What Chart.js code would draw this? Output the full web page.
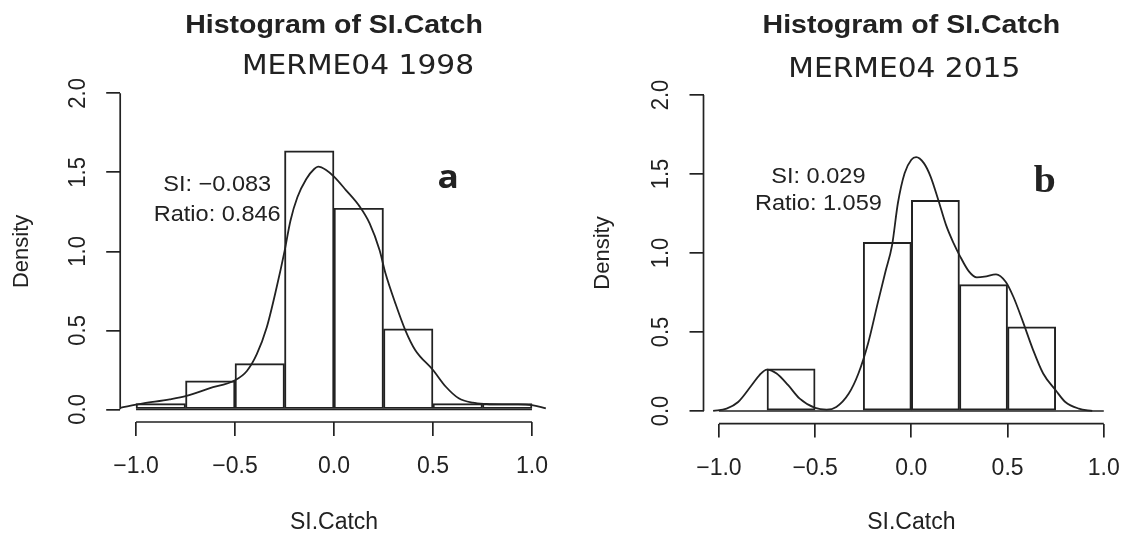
<!DOCTYPE html>
<html>
<head>
<meta charset="utf-8">
<script src="https://cdn.jsdelivr.net/npm/chart.js@4"></script>
<style>
  html, body { margin: 0; padding: 0; background: #fff; }
  .panel { position: absolute; top: 0; height: 540px; }
  #panelA { left: 0; width: 568px; }
  #panelB { left: 568px; width: 569px; }
</style>
</head>
<body>
<div class="panel" id="panelA"><canvas id="chartA"></canvas></div>
<div class="panel" id="panelB"><canvas id="chartB"></canvas></div>
<script>
// histogram bins (SI.Catch) and densities
const binEdges = [-1, -0.75, -0.5, -0.25, 0, 0.25, 0.5, 0.75, 1];
const densityA = [0.036, 0.18, 0.29, 1.636, 1.273, 0.51, 0.036, 0.036];
const densityB = [0, 0.267, 0, 1.067, 1.333, 0.8, 0.533, 0];

// kernel density curves
const kdeAx = [-1.08, -0.97, -0.83, -0.745, -0.63, -0.5, -0.44, -0.39, -0.34, -0.29, -0.25, -0.22, -0.185, -0.14, -0.1, -0.08, -0.04, 0, 0.06, 0.13, 0.18, 0.23, 0.26, 0.31, 0.36, 0.41, 0.5, 0.565, 0.63, 0.7, 0.77, 0.85, 0.93, 1.0, 1.07];
const kdeAy = [0.01, 0.036, 0.063, 0.085, 0.133, 0.184, 0.243, 0.349, 0.518, 0.771, 1.0, 1.194, 1.342, 1.458, 1.521, 1.536, 1.515, 1.473, 1.388, 1.283, 1.177, 1.008, 0.861, 0.671, 0.502, 0.376, 0.249, 0.143, 0.07, 0.042, 0.034, 0.032, 0.032, 0.027, 0.006];
const kdeBx = [-1.03, -0.96, -0.9, -0.83, -0.79, -0.75, -0.7, -0.64, -0.58, -0.5, -0.44, -0.39, -0.325, -0.275, -0.225, -0.175, -0.135, -0.1, -0.07, -0.035, 0, 0.025, 0.065, 0.1, 0.14, 0.18, 0.22, 0.25, 0.3, 0.34, 0.38, 0.44, 0.49, 0.53, 0.58, 0.63, 0.685, 0.75, 0.8, 0.87, 0.94];
const kdeBy = [0, 0.015, 0.057, 0.163, 0.226, 0.262, 0.237, 0.163, 0.078, 0.019, 0.008, 0.025, 0.11, 0.237, 0.427, 0.681, 0.88, 1.05, 1.315, 1.505, 1.59, 1.607, 1.569, 1.484, 1.336, 1.178, 1.061, 0.987, 0.882, 0.846, 0.85, 0.865, 0.818, 0.723, 0.564, 0.395, 0.237, 0.131, 0.057, 0.015, 0];

const xTicks = [-1, -0.5, 0, 0.5, 1];
const yTicks = [0, 0.5, 1, 1.5, 2];

const mainTitle = "Histogram of SI.Catch";
const subtitleA = "MERME04 1998";
const subtitleB = "MERME04 2015";
const statsA = ["SI: \u22120.083", "Ratio: 0.846"];
const statsB = ["SI: 0.029", "Ratio: 1.059"];
const xLabel = "SI.Catch";
const yLabel = "Density";

const ink = "#222";
const sans = '"Liberation Sans", Arial, Helvetica, sans-serif';
const stretch = 1.07; // the picture is a little wider than tall
const fmt = (v) => (v < 0 ? "\u2212" : "") + Math.abs(v).toFixed(1);
const binMids = binEdges.slice(0, -1).map((e, i) => (e + binEdges[i + 1]) / 2);
const pairs = (xs, ys) => xs.map((x, i) => ({ x, y: ys[i] }));

function wideText(ctx, text, x, y, sx) {
  ctx.save();
  ctx.translate(x, y);
  ctx.scale(sx, 1);
  ctx.fillText(text, 0, 0);
  ctx.restore();
}

// R-like axes (line only across the tick range, rotated y labels) and text
const rStyle = {
  id: "rStyle",
  afterDraw(chart, args, o) {
    const { ctx, chartArea: area } = chart;
    const xs = chart.scales.x, ys = chart.scales.y;
    ctx.save();
    ctx.strokeStyle = ink;
    ctx.lineWidth = 1.7;
    ctx.beginPath();
    ctx.moveTo(xs.getPixelForValue(xTicks[0]), area.bottom);
    ctx.lineTo(xs.getPixelForValue(xTicks[xTicks.length - 1]), area.bottom);
    ctx.moveTo(area.left, ys.getPixelForValue(yTicks[0]));
    ctx.lineTo(area.left, ys.getPixelForValue(yTicks[yTicks.length - 1]));
    ctx.stroke();

    ctx.fillStyle = ink;
    ctx.textAlign = "center";
    ctx.textBaseline = "middle";
    ctx.font = "22px " + sans;
    yTicks.forEach((v) => {
      ctx.save();
      ctx.translate(area.left - 42, ys.getPixelForValue(v));
      ctx.rotate(-Math.PI / 2);
      ctx.scale(1, stretch);
      ctx.fillText(fmt(v), 0, 0);
      ctx.restore();
    });

    o.stats.forEach((s, i) => {
      wideText(ctx, s, xs.getPixelForValue(o.statX), ys.getPixelForValue(o.statY[i]), stretch);
    });

    const cx = (area.left + area.right) / 2;
    ctx.textBaseline = "alphabetic";
    ctx.font = "bold 26.5px " + sans;
    wideText(ctx, mainTitle, cx + o.titleShift, o.titleY, 1.075);
    ctx.font = '26.5px "DejaVu Sans", sans-serif';
    wideText(ctx, o.subtitle, cx + o.subShift, o.subY, 1.12);

    ctx.font = o.letterFont;
    wideText(ctx, o.letter, xs.getPixelForValue(o.letterX), ys.getPixelForValue(o.letterY), stretch);
    ctx.restore();
  },
};

function makeChart(id, density, kx, ky, panel) {
  const el = document.getElementById(id);
  return new Chart(el, {
    type: "bar",
    data: {
      datasets: [
        {
          type: "line",
          data: pairs(kx, ky),
          borderColor: ink,
          borderWidth: 1.8,
          pointRadius: 0,
          cubicInterpolationMode: "monotone",
          fill: false,
          order: 0,
        },
        {
          type: "line",
          data: [{ x: binEdges[0], y: 0 }, { x: binEdges[binEdges.length - 1], y: 0 }],
          borderColor: ink,
          borderWidth: 1.6,
          pointRadius: 0,
          fill: false,
          order: 1,
        },
        {
          type: "bar",
          data: pairs(binMids, density),
          backgroundColor: "rgba(255,255,255,0)",
          borderColor: ink,
          borderWidth: 1.3,
          borderSkipped: false,
          barPercentage: 1,
          categoryPercentage: 1,
          order: 2,
        },
      ],
    },
    options: {
      responsive: true,
      maintainAspectRatio: false,
      animation: false,
      events: [],
      layout: { padding: { top: panel.top, right: panel.right, bottom: 0, left: 0 } },
      plugins: { legend: { display: false }, tooltip: { enabled: false }, rStyle: panel },
      scales: {
        x: {
          type: "linear",
          min: -1.08,
          max: 1.08,
          offset: false,
          afterBuildTicks: (s) => { s.ticks = xTicks.map((v) => ({ value: v })); },
          afterFit: (s) => { s.height = panel.xHeight; },
          border: { display: false },
          grid: { offset: false, drawOnChartArea: false, drawTicks: true, tickLength: 14, color: ink, lineWidth: 1.7 },
          ticks: { color: ink, font: { family: sans, size: 23 }, padding: 17, maxRotation: 0, autoSkip: false, callback: (v) => fmt(v) },
          title: { display: true, text: xLabel, color: ink, font: { family: sans, size: 23 }, padding: { top: 0, bottom: 3.5 } },
        },
        y: {
          type: "linear",
          min: -0.08,
          max: 2.08,
          afterBuildTicks: (s) => { s.ticks = yTicks.map((v) => ({ value: v })); },
          afterFit: (s) => { s.width = panel.yWidth; },
          border: { display: false },
          grid: { drawOnChartArea: false, drawTicks: true, tickLength: 14, color: ink, lineWidth: 1.7 },
          ticks: { display: false },
          title: { display: true, text: yLabel, color: ink, font: { family: sans, size: 22 }, padding: { top: panel.yTitlePad, bottom: 0 } },
        },
      },
    },
    plugins: [rStyle],
  });
}

makeChart("chartA", densityA, kdeAx, kdeAy, {
  top: 80.7, right: 20.2, xHeight: 118, yWidth: 120.2, yTitlePad: 8.5,
  subtitle: subtitleA, titleShift: 0, titleY: 32.5, subShift: 24, subY: 74.3,
  stats: statsA, statX: -0.59, statY: [1.418, 1.232],
  letter: "a", letterFont: 'bold 33px "Open Sans", sans-serif', letterX: 0.577, letterY: 1.40,
});

makeChart("chartB", densityB, kdeBx, kdeBy, {
  top: 82.4, right: 5.9, xHeight: 116.4, yWidth: 135.5, yTitlePad: 22,
  subtitle: subtitleB, titleShift: 0, titleY: 33.3, subShift: -7, subY: 77.3,
  stats: statsB, statX: -0.483, statY: [1.484, 1.313],
  letter: "b", letterFont: 'bold 37px "Liberation Serif", "Times New Roman", serif', letterX: 0.693, letterY: 1.389,
});
</script>
</body>
</html>
